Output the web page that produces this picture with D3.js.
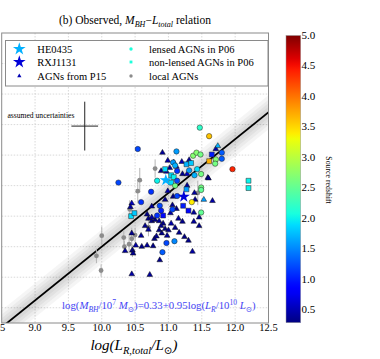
<!DOCTYPE html>
<html>
<head>
<meta charset="utf-8">
<script src="https://cdn.jsdelivr.net/npm/d3@7"></script>
<style>
body { margin: 0; background: #fff; }
text { font-family: "Liberation Serif", "DejaVu Serif", serif; }
</style>
</head>
<body>
<script>
// P15 AGNs (triangles): log L, log M, redshift
var p15X = [10.91,10.99,11.08,11.20,11.12,10.89,10.97,11.21,11.28,11.59,11.71,11.74,11.60,11.28,10.99,10.95,11.07,11.39,11.66,11.40,
            10.45,10.43,11.06,11.12,11.03,11.38,11.46,10.70,10.75,10.80,10.86,10.92,10.89,10.95,10.90,11.00,10.59,11.04,11.10,11.16,
            11.24,11.15,11.21,10.68,10.75,10.65,10.75,10.60,10.46,10.68,10.51,10.79,10.82,10.86,10.98,10.87,10.45,10.72,11.30,11.46,
            11.38,11.36,10.35,10.47,10.77,10.45,10.70,11.53,11.31,11.02];
var p15Y = [9.04,8.91,8.88,8.89,8.81,8.74,8.73,8.69,8.69,8.63,9.10,9.15,8.62,8.50,8.41,8.27,8.32,8.38,8.25,8.27,
            8.21,8.15,8.18,8.12,8.05,8.06,7.98,7.96,7.92,7.94,7.92,7.88,7.84,7.79,7.72,7.77,7.68,7.88,7.81,7.73,
            7.66,7.96,7.91,8.03,7.98,7.84,8.16,7.50,7.44,7.52,7.52,7.63,7.67,7.77,7.68,7.28,7.05,7.04,7.60,7.84,
            7.91,7.42,7.43,7.39,7.51,7.72,7.78,8.27,8.92,8.79];
var p15Z = [0.40,0.45,0.35,0.50,0.40,0.32,0.45,0.35,0.55,0.40,0.45,1.70,0.32,0.40,0.45,0.35,0.32,0.40,0.45,0.35,
            0.55,0.40,0.35,0.32,0.45,0.40,0.35,0.32,0.35,0.30,0.40,0.32,0.35,0.30,0.32,0.35,0.40,0.45,0.32,0.35,
            0.30,0.40,0.35,0.32,0.45,0.35,0.40,0.32,0.35,0.40,0.45,0.32,0.35,0.30,0.40,0.35,0.45,0.40,0.35,0.32,
            0.40,0.45,0.40,0.35,0.32,0.35,0.40,1.60,0.40,0.35];

// lensed AGNs in P06 (circles)
var lensX = [11.47,11.61,10.54,11.12,11.37,11.42,11.48,11.80,11.80,11.71,11.70,11.96,11.07,11.10,11.13,11.31,11.39,11.43,11.49,
             10.83,11.10,11.13,10.25,10.74,11.13,11.49,11.49,11.35,10.59,10.87,10.89,11.06,11.49,10.83,11.09,10.97,10.91];
var lensY = [9.45,9.31,9.10,9.06,8.99,9.04,9.01,9.04,8.94,8.93,8.86,8.77,8.88,8.83,8.74,8.75,8.67,8.77,8.69,
             8.58,8.50,8.58,8.55,8.40,8.33,8.47,8.43,8.23,8.23,8.17,8.09,8.11,8.06,8.01,7.59,7.56,7.41];
var lensZ = [2.2,3.6,1.2,1.6,2.7,2.7,2.6,1.3,1.3,2.7,2.6,4.4,1.6,1.7,1.1,1.6,1.7,1.9,2.6,
             2.0,2.6,1.2,1.2,1.1,1.2,2.6,2.5,3.4,1.1,1.2,1.0,1.2,2.5,1.1,1.5,1.2,1.3];

// non-lensed AGNs in P06 (squares)
var nonlensX = [11.65,11.61,12.20,12.20,11.27,11.34,10.95,11.04,11.08,11.04,11.27,11.30,11.22,10.92,10.44,10.49];
var nonlensY = [9.01,8.90,8.58,8.46,8.85,8.87,8.77,8.67,8.64,8.55,8.44,8.09,8.17,8.01,8.00,8.05];
var nonlensZ = [1.0,3.7,2.0,2.0,1.7,1.8,1.9,1.9,2.0,1.9,1.6,0.9,1.0,0.9,1.9,1.8];

// local AGNs (grey, with errors on log M)
var localX = [10.80,10.57,10.54,10.42,10.70,10.00,9.92,9.99,10.33,10.34,10.41,10.45,10.50,11.44,10.46];
var localY = [8.78,8.59,8.41,8.11,7.82,7.68,7.35,7.11,7.65,7.50,7.54,7.63,7.69,8.38,7.43];
var localErr = [0.15,0.20,0.20,0.15,0.15,0.15,0.12,0.10,0.12,0.10,0.15,0.18,0.12,0.20,0.10];

// the two lensed systems
var starNames = ["HE0435", "RXJ1131"];
var starX = [10.96, 11.23];
var starY = [8.59, 8.32];
var starZ = [1.69, 0.65];

// fit line as drawn, and its spread
var fitIntercept = 7.50, fitSlope = 0.88;
var bandOffsets = [0.28, 0.21, 0.15, 0.09];

var xTicks = [8.5, 9.0, 9.5, 10.0, 10.5, 11.0, 11.5, 12.0, 12.5];
var yGrid = [6.5, 7.0, 7.5, 8.0, 8.5, 9.0, 9.5, 10.0, 10.5];
var cbTicks = [0.5, 1.0, 1.5, 2.0, 2.5, 3.0, 3.5, 4.0, 4.5, 5.0];

var errBar = {x: 9.745, y: 9.475, dx: 0.2, dy: 0.4};

var W = 380, H = 359;
var plot = {left: 1.7, right: 268.5, top: 33, bottom: 323};

var svg = d3.select("body").append("svg")
    .attr("width", W).attr("height", H);

var x = d3.scaleLinear().domain([8.5, 12.5]).range([plot.left, plot.right]);
var y = d3.scaleLinear().domain([6.25, 11.0]).range([plot.bottom, plot.top]);

// jet colormap
var jr = d3.scaleLinear().domain([0, 0.35, 0.66, 0.89, 1]).range([0, 0, 1, 1, 0.5]);
var jg = d3.scaleLinear().domain([0, 0.125, 0.375, 0.64, 0.91, 1]).range([0, 0, 1, 1, 0, 0]);
var jb = d3.scaleLinear().domain([0, 0.11, 0.34, 0.65, 1]).range([0.5, 1, 1, 0, 0]);
function jet(t) {
    t = Math.max(0, Math.min(1, t));
    return d3.rgb(255 * jr(t), 255 * jg(t), 255 * jb(t)).toString();
}
var zNorm = d3.scaleLinear().domain([0.29, 5.0]).range([0, 1]).clamp(true);
function zColor(z) { return jet(zNorm(z)); }

svg.append("clipPath").attr("id", "clip")
    .append("rect")
    .attr("x", plot.left).attr("y", plot.top)
    .attr("width", plot.right - plot.left).attr("height", plot.bottom - plot.top);

// grid
var grid = svg.append("g").attr("stroke", "#c8c8c8").attr("stroke-width", 0.7)
    .attr("stroke-dasharray", "1.5,1.5");
grid.selectAll("line.v").data(xTicks.slice(1, -1)).enter().append("line")
    .attr("x1", d => x(d)).attr("x2", d => x(d))
    .attr("y1", plot.top).attr("y2", plot.bottom);
grid.selectAll("line.h").data(yGrid).enter().append("line")
    .attr("y1", d => y(d)).attr("y2", d => y(d))
    .attr("x1", plot.left).attr("x2", plot.right);

// spread band + fit line
var clipped = svg.append("g").attr("clip-path", "url(#clip)");
var fit = v => fitIntercept + fitSlope * (v - 10);
bandOffsets.forEach(function (o) {
    clipped.append("path")
        .datum([8.3, 12.7])
        .attr("d", d3.area()
            .x(d => x(d))
            .y0(d => y(fit(d) - o))
            .y1(d => y(fit(d) + o)))
        .attr("fill", "#000")
        .attr("fill-opacity", 0.04);
});
clipped.append("path")
    .datum([8.3, 12.7])
    .attr("d", d3.line().x(d => x(d)).y(d => y(fit(d))))
    .attr("stroke", "#000")
    .attr("stroke-width", 1.8)
    .attr("fill", "none");

// local AGNs
var local = localX.map((v, i) => ({x: v, y: localY[i], e: localErr[i]}));
svg.append("g").selectAll("line").data(local).enter().append("line")
    .attr("x1", d => x(d.x)).attr("x2", d => x(d.x))
    .attr("y1", d => y(d.y - d.e)).attr("y2", d => y(d.y + d.e))
    .attr("stroke", "#b4b4b4").attr("stroke-width", 1);
svg.append("g").selectAll("circle").data(local).enter().append("circle")
    .attr("cx", d => x(d.x)).attr("cy", d => y(d.y))
    .attr("r", 2.4)
    .attr("fill", "#8c8c8c");

// P15 triangles
var tri = d3.symbol().type(d3.symbolTriangle).size(14);
svg.append("g").selectAll("path").data(p15X.map((v, i) => ({x: v, y: p15Y[i], z: p15Z[i]})))
    .enter().append("path")
    .attr("d", tri)
    .attr("transform", d => "translate(" + x(d.x) + "," + y(d.y) + ")")
    .attr("fill", d => zColor(d.z))
    .attr("stroke", "#111").attr("stroke-width", 0.5);

// P06 non-lensed squares
var sq = d3.symbol().type(d3.symbolSquare).size(24);
svg.append("g").selectAll("path").data(nonlensX.map((v, i) => ({x: v, y: nonlensY[i], z: nonlensZ[i]})))
    .enter().append("path")
    .attr("d", sq)
    .attr("transform", d => "translate(" + x(d.x) + "," + y(d.y) + ")")
    .attr("fill", d => zColor(d.z))
    .attr("stroke", "#222").attr("stroke-width", 0.5);

// P06 lensed circles
svg.append("g").selectAll("circle").data(lensX.map((v, i) => ({x: v, y: lensY[i], z: lensZ[i]})))
    .enter().append("circle")
    .attr("cx", d => x(d.x)).attr("cy", d => y(d.y))
    .attr("r", 2.7)
    .attr("fill", d => zColor(d.z))
    .attr("stroke", "#222").attr("stroke-width", 0.5);

// stars
var star = d3.symbol().type(d3.symbolStar).size(46);
svg.append("g").selectAll("path").data(starX.map((v, i) => ({x: v, y: starY[i], z: starZ[i]})))
    .enter().append("path")
    .attr("d", star)
    .attr("transform", d => "translate(" + x(d.x) + "," + y(d.y) + ")")
    .attr("fill", d => zColor(d.z));

// assumed uncertainties cross
var eb = svg.append("g").attr("stroke", "#222").attr("stroke-width", 1);
eb.append("line").attr("x1", x(errBar.x)).attr("x2", x(errBar.x))
    .attr("y1", y(errBar.y - errBar.dy)).attr("y2", y(errBar.y + errBar.dy));
eb.append("line").attr("y1", y(errBar.y)).attr("y2", y(errBar.y))
    .attr("x1", x(errBar.x - errBar.dx)).attr("x2", x(errBar.x + errBar.dx));
svg.append("text").attr("x", 7.5).attr("y", 118)
    .attr("font-size", 7.6).text("assumed uncertainties");

// frame
svg.append("rect")
    .attr("x", plot.left).attr("y", plot.top)
    .attr("width", plot.right - plot.left).attr("height", plot.bottom - plot.top)
    .attr("fill", "none").attr("stroke", "#8a8a8a").attr("stroke-width", 1);

// x tick labels (the first one is partly off the left edge, as in the figure)
svg.append("g").selectAll("text").data(xTicks).enter().append("text")
    .attr("x", d => x(d) - (d === 8.5 ? 3 : 0)).attr("y", 331)
    .attr("text-anchor", "middle").attr("font-size", 10.5)
    .text(d => d.toFixed(1));

// rich text helper: segments of {t, i, s}
function rich(sel, segs, size) {
    var cur = 0;
    segs.forEach(function (g) {
        var target = g.s === "sub" ? 0.28 * size : g.s === "sup" ? -0.38 * size : 0;
        sel.append("tspan")
            .attr("dy", target - cur)
            .attr("font-size", g.s ? size * 0.7 : size)
            .attr("font-style", g.i ? "italic" : "normal")
            .text(g.t);
        cur = target;
    });
}

// title
rich(svg.append("text").attr("x", 135).attr("y", 24).attr("text-anchor", "middle"), [
    {t: "(b) Observed, "}, {t: "M", i: 1}, {t: "BH", i: 1, s: "sub"},
    {t: "\u2212"}, {t: "L", i: 1}, {t: "total", i: 1, s: "sub"}, {t: " relation"}
], 11.5);

// x label
rich(svg.append("text").attr("x", 134).attr("y", 350).attr("text-anchor", "middle"), [
    {t: "log(L", i: 1}, {t: "R,total", i: 1, s: "sub"}, {t: "/L", i: 1}, {t: "\u2299", s: "sub"}, {t: ")", i: 1}
], 15);

// relation
rich(svg.append("text").attr("x", 62).attr("y", 309).attr("fill", "#4646f5"), [
    {t: "log("}, {t: "M", i: 1}, {t: "BH", i: 1, s: "sub"}, {t: "/10"}, {t: "7", s: "sup"},
    {t: " M", i: 1}, {t: "\u2299", s: "sub"}, {t: ")=0.33+0.95log("}, {t: "L", i: 1}, {t: "R", i: 1, s: "sub"},
    {t: "/10"}, {t: "10", s: "sup"}, {t: " L", i: 1}, {t: "\u2299", s: "sub"}, {t: ")"}
], 10.8);

// legend
var lg = svg.append("g");
lg.append("rect").attr("x", 5.5).attr("y", 40.5).attr("width", 262.5).attr("height", 45.5)
    .attr("fill", "#fff").attr("stroke", "#8a8a8a").attr("stroke-width", 1);
var rowY = [49, 62, 76];
var legStar = d3.symbol().type(d3.symbolStar).size(50);
lg.append("path").attr("d", legStar).attr("transform", "translate(19.3," + rowY[0] + ")").attr("fill", zColor(starZ[0]));
lg.append("path").attr("d", legStar).attr("transform", "translate(19.3," + rowY[1] + ")").attr("fill", zColor(starZ[1]));
lg.append("path").attr("d", d3.symbol().type(d3.symbolTriangle).size(8))
    .attr("transform", "translate(19.3," + rowY[2] + ")").attr("fill", zColor(0.5));
lg.append("circle").attr("cx", 131).attr("cy", rowY[0]).attr("r", 1.7).attr("fill", zColor(2.1));
lg.append("path").attr("d", d3.symbol().type(d3.symbolSquare).size(8))
    .attr("transform", "translate(131," + rowY[1] + ")").attr("fill", zColor(2.1));
lg.append("circle").attr("cx", 131).attr("cy", rowY[2]).attr("r", 1.7).attr("fill", "#8c8c8c");
var legTexts = [[starNames[0], "lensed AGNs in P06"], [starNames[1], "non-lensed AGNs in P06"], ["AGNs from P15", "local AGNs"]];
legTexts.forEach(function (row, i) {
    lg.append("text").attr("x", 37.3).attr("y", rowY[i] + 3.7).attr("font-size", 10.5).text(row[0]);
    lg.append("text").attr("x", 149).attr("y", rowY[i] + 3.7).attr("font-size", 10.5).text(row[1]);
});

// colorbar
var cb = d3.scaleLinear().domain([0.29, 5.0]).range([322.7, 35.5]);
var grad = svg.append("defs").append("linearGradient").attr("id", "jet")
    .attr("x1", 0).attr("y1", 1).attr("x2", 0).attr("y2", 0);
d3.range(0, 1.0001, 0.02).forEach(function (t) {
    grad.append("stop").attr("offset", t).attr("stop-color", jet(t));
});
svg.append("rect").attr("x", 286).attr("y", cb(5.0))
    .attr("width", 14.7).attr("height", cb(0.29) - cb(5.0))
    .attr("fill", "url(#jet)")
    .attr("stroke", "#999").attr("stroke-width", 0.5);
svg.append("g").selectAll("text").data(cbTicks).enter().append("text")
    .attr("x", 301.5).attr("y", d => cb(d) + 3.5)
    .attr("font-size", 11)
    .text(d => d.toFixed(1));
svg.append("text")
    .attr("transform", "translate(326,180) rotate(90)")
    .attr("text-anchor", "middle").attr("font-size", 7.8)
    .text("Source redshift");
</script>
</body>
</html>
